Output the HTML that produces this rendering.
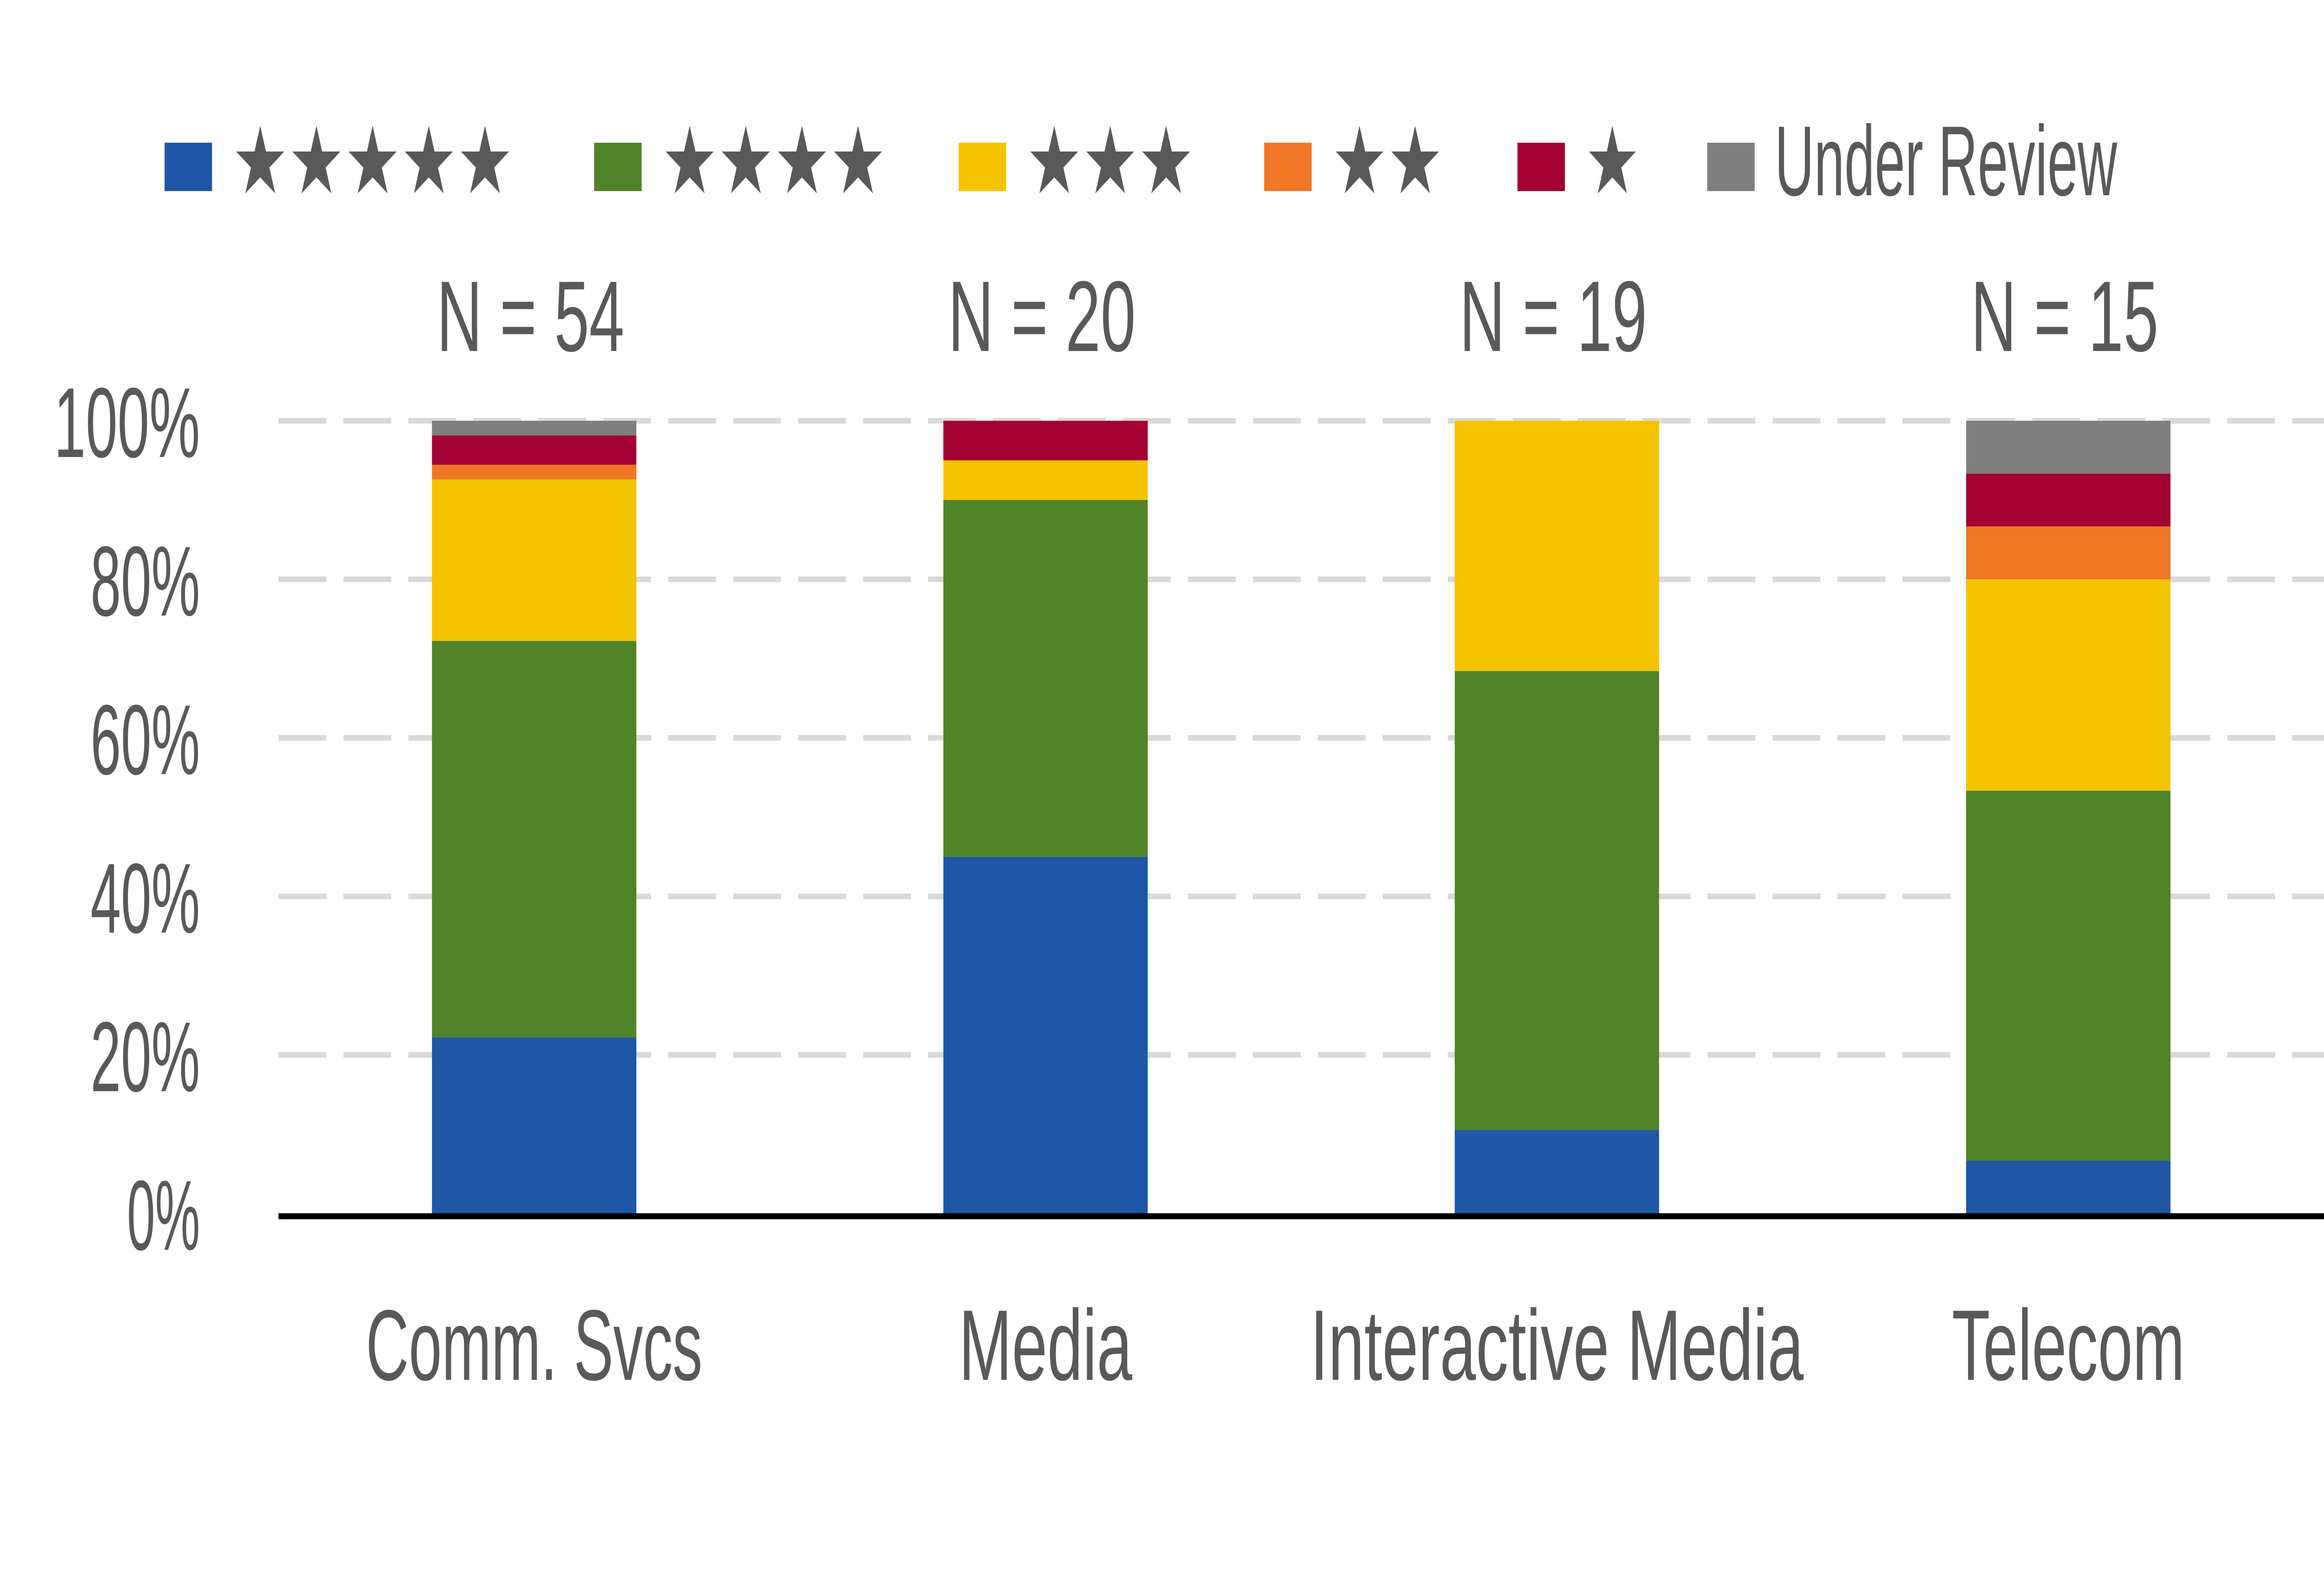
<!DOCTYPE html>
<html><head><meta charset="utf-8"><style>
html,body{margin:0;padding:0;background:#fff;overflow:hidden;}
svg{display:block;width:100vw;height:100vh;}
text{font-family:"Liberation Sans Narrow","Liberation Sans",sans-serif;fill:#595959;}
.star{font-family:"DejaVu Sans",sans-serif;}
</style></head><body>
<svg id="chart" viewBox="0 0 6368 3392" preserveAspectRatio="none" xmlns="http://www.w3.org/2000/svg">
<g id="grid"></g>
<g id="bars"></g>
<g id="labels"></g>
<g id="legend"></g>
</svg>
<script>
const categories = ["Comm. Svcs", "Media", "Interactive Media", "Telecom"];
const fiveStar = [12, 9, 2, 1];
const fourStar = [27, 9, 11, 7];
const threeStar = [11, 1, 6, 4];
const twoStar = [1, 0, 0, 1];
const oneStar = [2, 1, 0, 1];
const underReview = [1, 0, 0, 1];
const seriesNames = ["★★★★★", "★★★★", "★★★", "★★", "★", "Under Review"];
const yTicks = [0, 20, 40, 60, 80, 100];
const yTickLabels = ["0%", "20%", "40%", "60%", "80%", "100%"];

const NS = "http://www.w3.org/2000/svg";
const series = [fiveStar, fourStar, threeStar, twoStar, oneStar, underReview];
const colors = ["#1f56a6", "#518329", "#f4c400", "#ef7725", "#a30032", "#7f7f7f"];
const catLabelW = {"Comm. Svcs": 922, "Media": 475, "Interactive Media": 1352, "Telecom": 638};
const plotL = 763, plotR = 6368, y0 = 2610, y100 = 905;
const band = (plotR - plotL) / categories.length, barW = 560;
function yS(p) { return y0 - (y0 - y100) * p / 100; }
function xC(i) { return plotL + band * (i + 0.5); }
function mk(tag, attrs, parent) {
  const e = document.createElementNS(NS, tag);
  for (const k in attrs) e.setAttribute(k, attrs[k]);
  parent.appendChild(e);
  return e;
}
function fit(t, w) {
  t.setAttribute("textLength", w);
  t.setAttribute("lengthAdjust", "spacingAndGlyphs");
}
const grid = document.getElementById("grid"), bars = document.getElementById("bars"),
  labels = document.getElementById("labels"), legend = document.getElementById("legend");

yTicks.forEach((t, i) => {
  if (t > 0) {
    const g = mk("line", {x1: plotL, x2: plotR, y1: yS(t), y2: yS(t), stroke: "#d9d9d9", "stroke-width": 12, "stroke-dasharray": "131 47"}, grid);
    
    
  }
  const tx = mk("text", {x: 548, y: yS(t) + 78, "text-anchor": "end", "font-size": 214}, labels);
  tx.textContent = yTickLabels[i];
  fit(tx, Math.round(yTickLabels[i].length * 100));
  
  
});

categories.forEach((c, i) => {
  const total = series.reduce((s, a) => s + a[i], 0);
  let cum = 0;
  series.forEach((arr, s) => {
    const v = arr[i];
    if (v <= 0) return;
    const p0 = cum / total * 100, p1 = (cum + v) / total * 100;
    cum += v;
    const r = mk("rect", {x: xC(i) - barW / 2, y: yS(p1), width: barW, height: yS(p0) - yS(p1), fill: colors[s]}, bars);
    
    
  });
  const n = mk("text", {x: xC(i) - 10, y: 755, "text-anchor": "middle", "font-size": 216}, labels);
  n.textContent = "N = " + total;
  fit(n, 514);
  
  
  const cl = mk("text", {x: xC(i), y: 2968, "text-anchor": "middle", "font-size": 216}, labels);
  cl.textContent = c;
  fit(cl, catLabelW[c] || Math.round(c.length * 85));
  
  
});

const ax = mk("line", {x1: plotL, x2: plotR, y1: 2616, y2: 2616, stroke: "#000", "stroke-width": 13}, bars);



const legX = [451, 1628, 2627, 3464, 4158, 4678];
seriesNames.forEach((nm, s) => {
  const r = mk("rect", {x: legX[s], y: 307, width: 130, height: 104, fill: colors[s]}, legend);
  
  
  const isStar = nm.indexOf("★") >= 0;
  const t = mk("text", {x: legX[s] + 185, y: isStar ? 415 : 420, "font-size": isStar ? 200 : 214}, legend);
  if (isStar) t.setAttribute("class", "star");
  t.textContent = nm;
  fit(t, isStar ? nm.length * 155 - 5 : 938);
  
  
});
</script>
</body></html>
